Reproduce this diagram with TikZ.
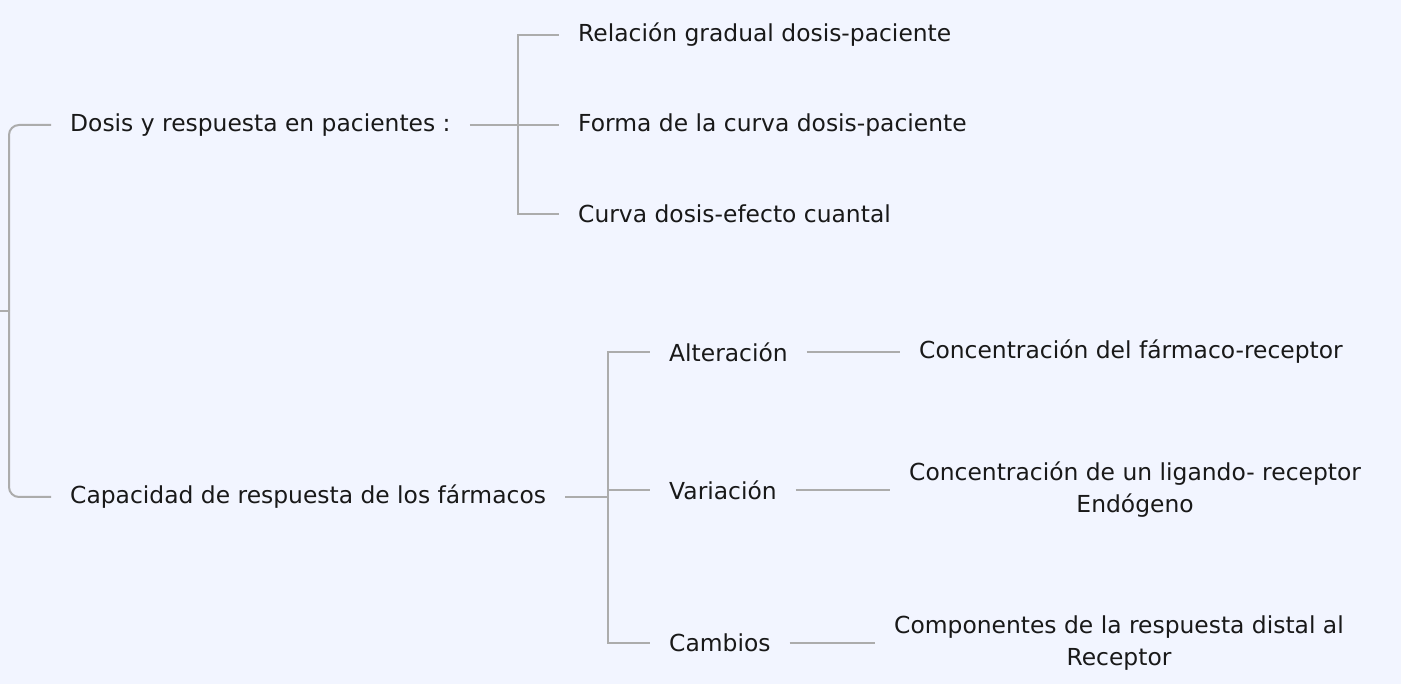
\documentclass[tikz,border=0pt]{standalone}
\usepackage{fontspec}
\setmainfont{DejaVu Sans}
\definecolor{bgblue}{RGB}{242,245,255}
\definecolor{linegray}{RGB}{172,172,172}
\definecolor{txtdark}{RGB}{25,25,25}
\tikzset{
  topic/.style={anchor=west, inner xsep=19pt, inner ysep=2pt, text=txtdark,
    font=\fontsize{23.4}{32}\selectfont, align=center},
  branch/.style={draw=linegray, line width=2pt},
}

\begin{document}
\begin{tikzpicture}[x=1pt,y=-1pt]
\useasboundingbox[fill=bgblue] (0,0) rectangle (1401,684);
\coordinate (root) at (0,311);
\coordinate (root-j) at (9,311);

\node[topic] (dosis) at (51,125) {Dosis y respuesta en pacientes :};
\node[topic] (capac) at (51,497) {Capacidad de respuesta de los fármacos};

\coordinate (dosis-j) at (518,125);
\node[topic] (rel) at (559,35) {Relación gradual dosis-paciente};
\node[topic] (forma) at (559,125) {Forma de la curva dosis-paciente};
\node[topic] (curva) at (559,214) {Curva dosis-efecto cuantal};

\coordinate (capac-j) at (608,497);
\node[topic] (alter) at (650,352) {Alteración};
\node[topic] (varia) at (650,490) {Variación};
\node[topic] (cambi) at (650,643) {Cambios};

\node[topic] (alter-c) at (900,352) {Concentración del fármaco-receptor};
\node[topic] (varia-c) at (890,490) {Concentración de un ligando- receptor\\Endógeno};
\node[topic] (cambi-c) at (875,643) {Componentes de la respuesta distal al\\Receptor};

% root
\draw[branch] (root) -- (root-j);
\draw[branch, rounded corners=10pt] (root-j) |- (dosis.west);
\draw[branch, rounded corners=10pt] (root-j) |- (capac.west);
% dosis
\draw[branch] (dosis.east) -- (dosis-j);
\draw[branch] (dosis-j) |- (rel.west);
\draw[branch] (dosis-j) -- (forma.west);
\draw[branch] (dosis-j) |- (curva.west);
% capacidad
\draw[branch] (capac.east) -- (capac-j);
\draw[branch] (capac-j) |- (alter.west);
\draw[branch] (capac-j) |- (varia.west);
\draw[branch] (capac-j) |- (cambi.west);
\draw[branch] (alter.east) -- (alter-c.west);
\draw[branch] (varia.east) -- (varia-c.west);
\draw[branch] (cambi.east) -- (cambi-c.west);
\end{tikzpicture}
\end{document}
